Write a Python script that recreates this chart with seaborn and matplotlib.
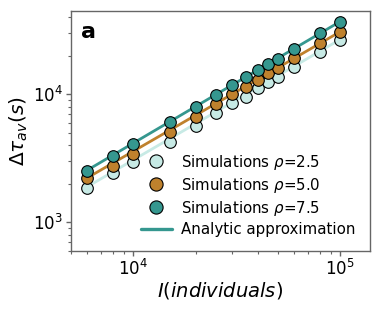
import numpy as np
import pandas as pd
import matplotlib
matplotlib.use("Agg")
import matplotlib.pyplot as plt
import seaborn as sns
from matplotlib.lines import Line2D

individuals = [6000, 8000, 10000, 15000, 20000, 25000, 30000, 35000, 40000,
               45000, 50000, 60000, 80000, 100000]
sim_rho_2_5 = [1862, 2416, 2970, 4265, 5650, 7180, 8510, 9580, 11140,
               12540, 13730, 16430, 21530, 26560]
sim_rho_5_0 = [2230, 2755, 3420, 5100, 6680, 8400, 10000, 11340, 12930,
               14590, 15960, 19100, 25000, 30830]
sim_rho_7_5 = [2520, 3300, 4090, 6110, 8000, 9880, 11820, 13590, 15490,
               17260, 18970, 22590, 29970, 36900]
analytic_x = [6000, 100000]
analytic_rho_2_5 = [1900, 26800]
analytic_rho_5_0 = [2230, 30800]
analytic_rho_7_5 = [2560, 37000]
rho_labels = ["2.5", "5.0", "7.5"]
colors = ["#c7eae5", "#bf812d", "#35978f"]

sns.set_style("white", {"text.color": "black", "axes.labelcolor": "black",
                        "xtick.color": "black", "ytick.color": "black"})
fig = plt.figure(figsize=(3.81, 3.09), dpi=100)
ax = fig.add_axes([0.1856, 0.1877, 0.7855, 0.7767])

sims = [sim_rho_2_5, sim_rho_5_0, sim_rho_7_5]
analytic = [analytic_rho_2_5, analytic_rho_5_0, analytic_rho_7_5]

for rho, an, c in zip(rho_labels, analytic, colors):
    df = pd.DataFrame({"I": analytic_x, "tau": an})
    sns.lineplot(data=df, x="I", y="tau", color=c, lw=2.0, ax=ax, zorder=2)

for rho, sim, c in zip(rho_labels, sims, colors):
    df = pd.DataFrame({"I": individuals, "tau": sim})
    sns.scatterplot(data=df, x="I", y="tau", color=c, s=70, edgecolor="black",
                    linewidth=0.8, ax=ax, zorder=3)

ax.set_xscale("log")
ax.set_yscale("log")
ax.set_xlim(4980, 139700)
ax.set_ylim(597, 44800)

for s in ax.spines.values():
    s.set_color("#666666")
    s.set_linewidth(1.0)
ax.tick_params(axis="both", which="major", direction="out", length=3.5, width=1,
               color="#666666", labelcolor="black", labelsize=12, pad=2,
               bottom=True, left=True)
ax.tick_params(axis="both", which="minor", direction="out", length=2, width=0.8,
               color="#666666", bottom=True, left=True)

ax.set_xlabel(r"$I(individuals)$", fontsize=14, labelpad=1)
ax.set_ylabel(r"$\Delta\tau_{av}(s)$", fontsize=14.5, labelpad=2)

ax.text(0.035, 0.955, "a", transform=ax.transAxes, fontsize=16, fontweight="bold",
        va="top", ha="left", color="black")

handles = []
for rho, c in zip(rho_labels, colors):
    handles.append(Line2D([], [], ls="none", marker="o", markersize=9.5,
                          markerfacecolor=c, markeredgecolor="black",
                          markeredgewidth=0.8,
                          label=r"Simulations $\rho$=" + rho))
handles.append(Line2D([], [], color=colors[2], lw=2.4, label="Analytic approximation"))
ax.legend(handles=handles, loc="lower right", frameon=False, fontsize=10.8,
          handlelength=2.1, borderaxespad=0.55, labelspacing=0.27,
          handletextpad=0.6)

fig.savefig("out.png", dpi=100)
